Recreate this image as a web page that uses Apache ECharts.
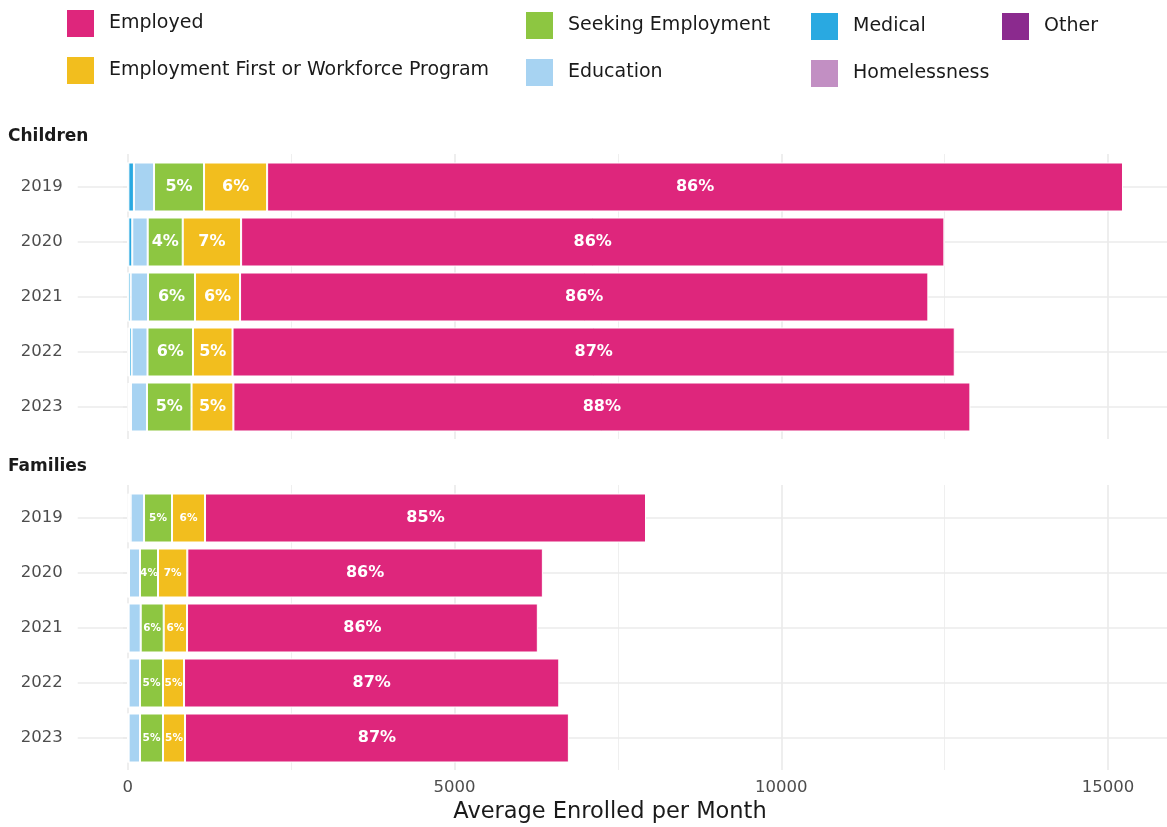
<!DOCTYPE html>
<html>
<head>
<meta charset="utf-8">
<script src="https://cdn.jsdelivr.net/npm/echarts@6/dist/echarts.min.js"></script>
<style>
  html, body { margin: 0; padding: 0; background: #fff; }
  #main { width: 1167px; height: 827px; }
</style>
</head>
<body>
<div id="main"></div>
<script>
const years = ['2019', '2020', '2021', '2022', '2023']

// Children, average enrolled per month, by reason
const childOther = [5, 5, 5, 10, 15]
const childHomeless = [5, 5, 5, 10, 15]
const childMedical = [85, 60, 35, 40, 20]
const childEducation = [308, 236, 266, 243, 245]
const childSeeking = [765, 536, 719, 696, 682]
const childEmpFirst = [965, 893, 689, 605, 640]
const childEmployed = [13095, 10760, 10531, 11050, 11276]

// Families
const famOther = [10, 5, 3, 4, 4]
const famHomeless = [10, 5, 3, 5, 5]
const famMedical = [25, 10, 8, 5, 5]
const famEducation = [205, 168, 185, 174, 174]
const famSeeking = [428, 276, 352, 352, 352]
const famEmpFirst = [505, 448, 357, 322, 337]
const famEmployed = [6747, 5440, 5367, 5741, 5873]

// percent labels as printed on the bars
const childSeekingPct = ['5%', '4%', '6%', '6%', '5%']
const childEmpFirstPct = ['6%', '7%', '6%', '5%', '5%']
const childEmployedPct = ['86%', '86%', '86%', '87%', '88%']
const famSeekingPct = ['5%', '4%', '6%', '5%', '5%']
const famEmpFirstPct = ['6%', '7%', '6%', '5%', '5%']
const famEmployedPct = ['85%', '86%', '86%', '87%', '87%']

const xTicks = [0, 5000, 10000, 15000]

const FONT = 'DejaVu Sans'
const GRID_LINE = '#ebebeb'
const X_MAX = 15993 // panel runs a few px past the right edge
const PANEL_W = 1045.3

const segNames = [
  'Other',
  'Homelessness',
  'Medical',
  'Education',
  'Seeking Employment',
  'Employment First or Workforce Program',
  'Employed'
]
const segColors = {
  'Other': '#8B2A8E',
  'Homelessness': '#C28FC3',
  'Medical': '#29A9E1',
  'Education': '#A7D3F2',
  'Seeking Employment': '#8DC641',
  'Employment First or Workforce Program': '#F2BE1E',
  'Employed': '#DE267C'
}

const chart = echarts.init(document.getElementById('main'))

/** one panel of stacked bars */
function panelSeries(axisIdx, values, pcts, sizes) {
  return segNames.map((name, i) => {
    const labels = pcts[name]
    return {
      name: name,
      type: 'bar',
      stack: 'panel' + axisIdx,
      xAxisIndex: axisIdx,
      yAxisIndex: axisIdx,
      barWidth: 49,
      data: values[i],
      itemStyle: {
        color: segColors[name],
        borderColor: '#fff',
        borderWidth: 1
      },
      label: labels ? {
        show: true,
        position: 'inside',
        color: '#fff',
        fontFamily: FONT,
        fontWeight: 'bold',
        fontSize: sizes[name],
        formatter: p => labels[p.dataIndex]
      } : { show: false },
      emphasis: { disabled: true }
    }
  })
}

const childValues = [childOther, childHomeless, childMedical, childEducation, childSeeking, childEmpFirst, childEmployed]
const famValues = [famOther, famHomeless, famMedical, famEducation, famSeeking, famEmpFirst, famEmployed]

const childPcts = {
  'Seeking Employment': childSeekingPct,
  'Employment First or Workforce Program': childEmpFirstPct,
  'Employed': childEmployedPct
}
const famPcts = {
  'Seeking Employment': famSeekingPct,
  'Employment First or Workforce Program': famEmpFirstPct,
  'Employed': famEmployedPct
}

// x axes that only draw the vertical grid lines
function gridXAxis(gridIndex, withLabels) {
  return {
    type: 'value',
    gridIndex: gridIndex,
    min: 0,
    max: X_MAX,
    interval: 5000,
    axisLine: { show: false },
    axisTick: { show: false },
    minorTick: { show: false, splitNumber: 2 },
    splitLine: { show: true, lineStyle: { color: GRID_LINE, width: 1.7 } },
    minorSplitLine: { show: true, lineStyle: { color: '#efefef', width: 1 } },
    axisLabel: {
      show: withLabels,
      margin: 9,
      fontFamily: FONT,
      fontSize: 16.5,
      color: '#4d4d4d',
      showMaxLabel: false,
      formatter: v => (xTicks.indexOf(v) >= 0 ? String(v) : '')
    }
  }
}

function barXAxis(gridIndex) {
  return { type: 'value', gridIndex: gridIndex, min: 0, max: X_MAX, show: false }
}

// category axis with the year labels, short ticks poke out left
function yearAxis(gridIndex) {
  return {
    type: 'category',
    gridIndex: gridIndex,
    data: years,
    inverse: true,
    axisLine: { show: false },
    axisTick: {
      show: true,
      alignWithLabel: true,
      length: 50,
      lineStyle: { color: GRID_LINE, width: 1.7 }
    },
    splitLine: { show: false },
    axisLabel: {
      margin: 65,
      fontFamily: FONT,
      fontSize: 16.5,
      color: '#4d4d4d'
    }
  }
}

// same categories, ticks run inward across the panel as horizontal grid lines
function yearLineAxis(gridIndex) {
  return {
    type: 'category',
    gridIndex: gridIndex,
    data: years,
    inverse: true,
    axisLine: { show: false },
    axisTick: {
      show: true,
      inside: true,
      alignWithLabel: true,
      length: 1050,
      lineStyle: { color: GRID_LINE, width: 1.7 }
    },
    axisLabel: { show: false },
    splitLine: { show: false }
  }
}

function legendCol(left, top, names) {
  return {
    left: left,
    top: top,
    orient: 'vertical',
    padding: 0,
    itemWidth: 29,
    itemHeight: 29,
    itemGap: 16,
    icon: 'rect',
    selectedMode: false,
    data: names,
    textStyle: {
      fontFamily: FONT,
      fontSize: 19,
      color: '#1a1a1a',
      padding: [0, 0, 0, 9]
    }
  }
}

function panelGrid(top, height) {
  return { left: 127.7, width: PANEL_W, top: top, height: height, outerBoundsMode: 'none', containLabel: false }
}

const option = {
  animation: false,
  textStyle: { fontFamily: FONT },
  legend: [
    legendCol(65, 8, ['Employed', 'Employment First or Workforce Program']),
    legendCol(524, 10, ['Seeking Employment', 'Education']),
    legendCol(809, 11, ['Medical', 'Homelessness']),
    legendCol(1000, 11, ['Other'])
  ],
  grid: [
    panelGrid(154, 285),
    panelGrid(485, 285),
    panelGrid(159.5, 275),
    panelGrid(490.5, 275)
  ],
  xAxis: [
    gridXAxis(0, false),
    gridXAxis(1, true),
    barXAxis(2),
    barXAxis(3)
  ],
  yAxis: [
    { type: 'value', gridIndex: 0, show: false },
    { type: 'value', gridIndex: 1, show: false },
    yearAxis(2),
    yearAxis(3),
    yearLineAxis(2),
    yearLineAxis(3)
  ],
  graphic: [
    {
      type: 'text', x: 8, y: 137,
      style: { text: 'Children', fontFamily: FONT, fontSize: 17, fontWeight: 'bold', fill: '#1a1a1a', textVerticalAlign: 'middle' }
    },
    {
      type: 'text', x: 8, y: 467,
      style: { text: 'Families', fontFamily: FONT, fontSize: 17, fontWeight: 'bold', fill: '#1a1a1a', textVerticalAlign: 'middle' }
    },
    {
      type: 'text', x: 610, y: 812,
      style: { text: 'Average Enrolled per Month', fontFamily: FONT, fontSize: 22.5, fill: '#1a1a1a', textAlign: 'center', textVerticalAlign: 'middle' }
    }
  ],
  series: [
    ...panelSeries(2, childValues, childPcts, {
      'Seeking Employment': 16,
      'Employment First or Workforce Program': 16,
      'Employed': 16
    }),
    ...panelSeries(3, famValues, famPcts, {
      'Seeking Employment': 10.5,
      'Employment First or Workforce Program': 10.5,
      'Employed': 16
    })
  ]
}

chart.setOption(option)
</script>
</body>
</html>
